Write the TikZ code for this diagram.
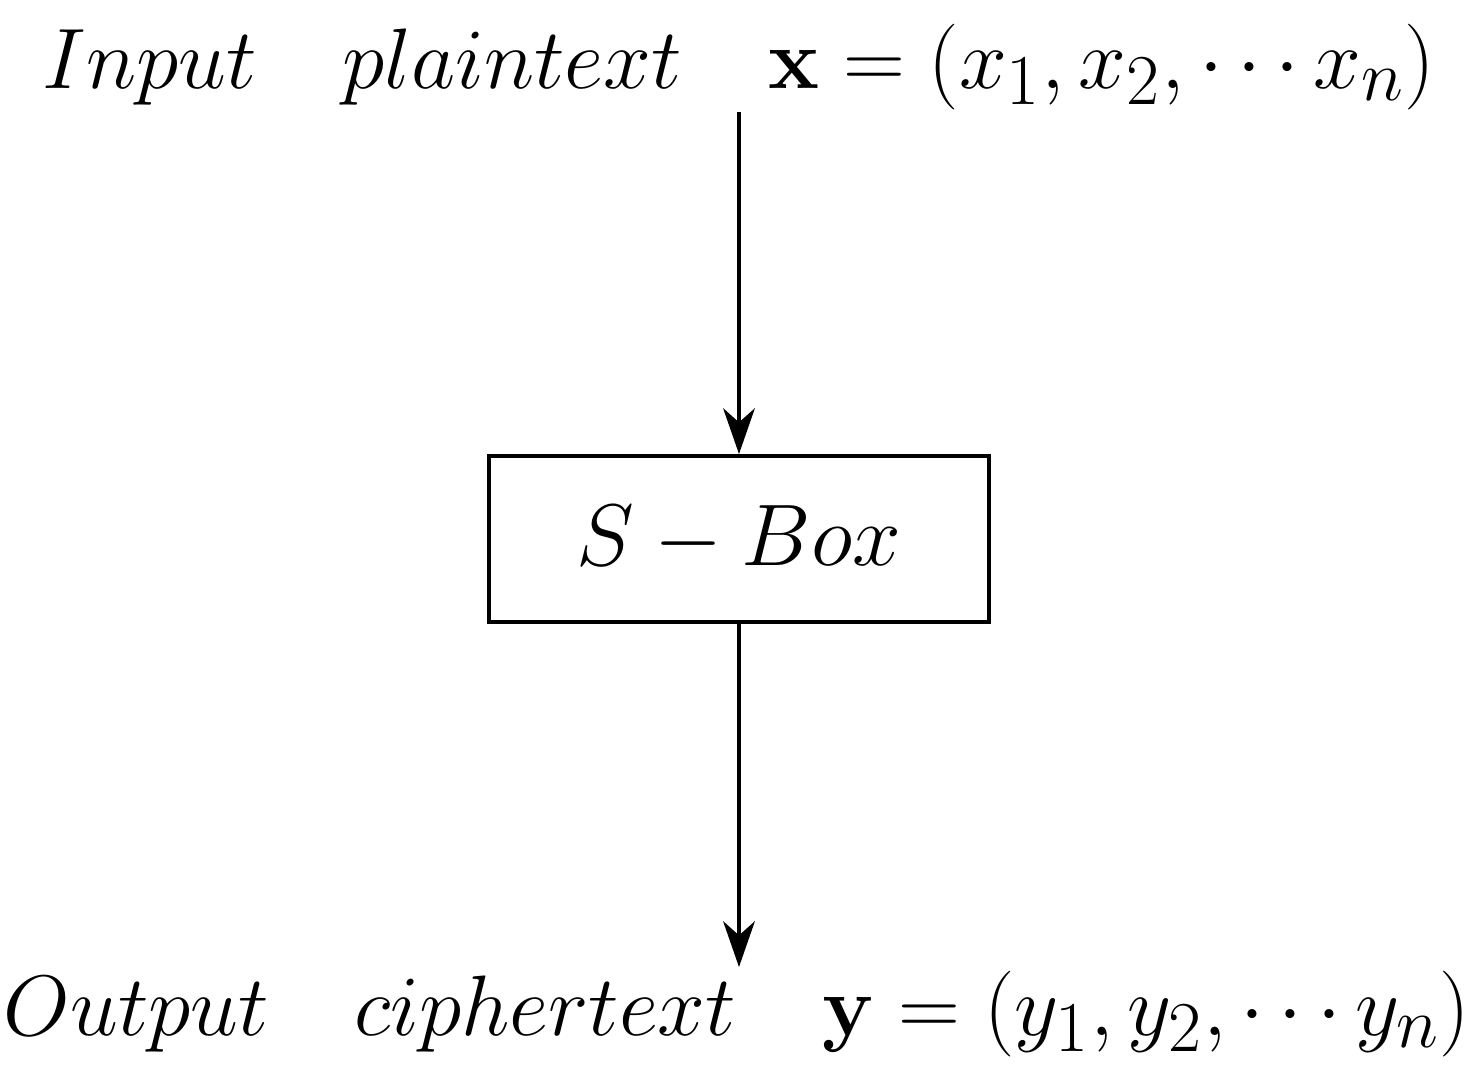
\documentclass[tikz,border=0pt]{standalone}
\usetikzlibrary{arrows.meta}
\begin{document}
\begin{tikzpicture}[x=0.01cm,y=-0.01cm,
  lbl/.style={anchor=base,inner sep=0pt,scale=0.981,transform shape,font=\fontsize{24.88}{30}\selectfont},
  sbox/.style={draw,line width=1.1pt,minimum width=5cm,minimum height=1.66cm,inner sep=0pt,font=\fontsize{24.88}{30}\selectfont},
  flow/.style={line width=1.1pt,-{Stealth[length=13pt,width=9pt,inset=4pt]}}]
\useasboundingbox (0,0) rectangle (1484,1078);
\node[lbl] (in) at (739,88) {$Input\quad plaintext\quad \mathbf{x}=(x_1,x_2,\cdots x_n)$};
\node[sbox] (sb) at (739,539) {$S-Box$};
\node[lbl] (out) at (737,1035) {$Output\quad ciphertext\quad \mathbf{y}=(y_1,y_2,\cdots y_n)$};
\coordinate (a0) at (739,112);
\coordinate (a1) at (739,967);
\draw[flow] (a0) -- (sb.north);
\draw[flow] (sb.south) -- (a1);
\end{tikzpicture}
\end{document}
